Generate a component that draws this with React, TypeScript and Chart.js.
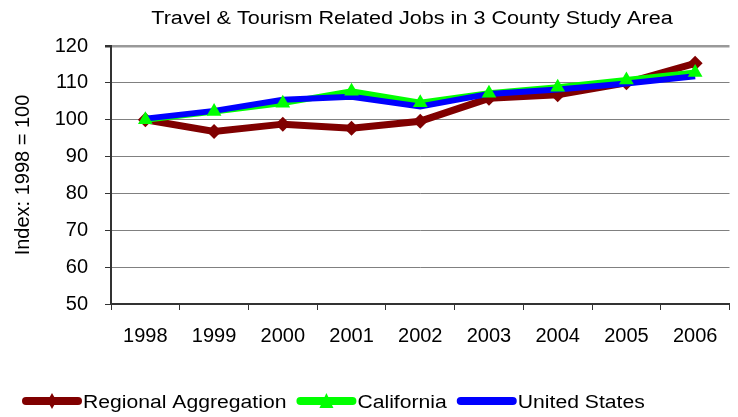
import React, { useEffect, useRef } from "react";
import { Chart, registerables } from "chart.js";

Chart.register(...registerables);

const years = ["1998", "1999", "2000", "2001", "2002", "2003", "2004", "2005", "2006"];
const regional = [100, 96.8, 98.8, 97.7, 99.6, 105.8, 106.8, 110.0, 115.3];
const california = [100, 102.2, 104.5, 107.7, 104.6, 107.2, 108.8, 110.8, 112.8];
const unitedStates = [100.3, 102.4, 105.4, 106.2, 103.6, 107.0, 108.2, 109.8, 111.8];
const seriesNames = ["Regional Aggregation", "California", "United States"];
const titleText = "Travel & Tourism Related Jobs in 3 County Study Area";
const yAxisTitle = "Index: 1998 = 100";
const yMin = 50;
const yMax = 120;
const yStep = 10;

const FONT = '"Liberation Sans", Arial, sans-serif';
const RED = "#800000";
const GREEN = "#00ff00";
const BLUE = "#0000ff";
const STRETCH = 1.2;
const LEGEND_STRETCH = 1.175;

function drawDiamond(ctx: CanvasRenderingContext2D, x: number, y: number, rx: number, ry: number, color: string) {
  ctx.beginPath();
  ctx.moveTo(x, y - ry);
  ctx.lineTo(x + rx, y);
  ctx.lineTo(x, y + ry);
  ctx.lineTo(x - rx, y);
  ctx.closePath();
  ctx.fillStyle = color;
  ctx.fill();
}

function drawTriangle(ctx: CanvasRenderingContext2D, x: number, top: number, bottom: number, w: number, color: string) {
  ctx.beginPath();
  ctx.moveTo(x, top);
  ctx.lineTo(x + w / 2, bottom);
  ctx.lineTo(x - w / 2, bottom);
  ctx.closePath();
  ctx.fillStyle = color;
  ctx.fill();
}

const decorPlugin = {
  id: "decor",
  afterDraw(chart: any) {
    const ctx: CanvasRenderingContext2D = chart.ctx;
    ctx.save();
    // Title
    ctx.font = `18px ${FONT}`;
    ctx.fillStyle = "#000";
    ctx.textAlign = "center";
    ctx.textBaseline = "middle";
    ctx.save();
    ctx.translate(412, 19);
    ctx.scale(STRETCH, 1);
    ctx.fillText(titleText, 0, 0);
    ctx.restore();

    // Legend
    const colors = [RED, GREEN, BLUE];
    const markers = ["diamond", "triangle", "none"];
    const ly = 401;
    let x = 22;
    ctx.font = `18px ${FONT}`;
    ctx.textAlign = "left";
    for (let i = 0; i < seriesNames.length; i++) {
      ctx.strokeStyle = colors[i];
      ctx.lineWidth = 8;
      ctx.lineCap = "round";
      ctx.beginPath();
      ctx.moveTo(x + 4, ly);
      ctx.lineTo(x + 56, ly);
      ctx.stroke();
      const mx = x + 30;
      if (markers[i] === "diamond") drawDiamond(ctx, mx, ly, 4.5, 8, colors[i]);
      if (markers[i] === "triangle") drawTriangle(ctx, mx, ly - 8, ly + 7, 14, colors[i]);
      const tx = x + 61;
      ctx.fillStyle = "#000";
      ctx.save();
      ctx.translate(tx, ly + 2);
      ctx.scale(LEGEND_STRETCH, 1);
      ctx.fillText(seriesNames[i], 0, 0);
      const w = ctx.measureText(seriesNames[i]).width * LEGEND_STRETCH;
      ctx.restore();
      x = tx + w + 10;
    }
    ctx.restore();
  },
};

export default function App() {
  const ref = useRef<HTMLCanvasElement | null>(null);
  useEffect(() => {
    document.body.style.margin = "0";
    const canvas = ref.current!;
    const chart = new Chart(canvas, {
      type: "line",
      data: {
        labels: years,
        datasets: [
          {
            label: seriesNames[0],
            data: regional,
            borderColor: RED,
            backgroundColor: RED,
            borderWidth: 7,
            pointStyle: "rectRot",
            pointRadius: 7.5,
            pointBorderWidth: 0,
            pointBackgroundColor: RED,
            tension: 0,
            order: 4,
          },
          {
            label: seriesNames[1],
            data: california,
            borderColor: GREEN,
            backgroundColor: GREEN,
            borderWidth: 6,
            pointRadius: 0,
            tension: 0,
            order: 3,
          },
          {
            label: seriesNames[2],
            data: unitedStates,
            borderColor: BLUE,
            backgroundColor: BLUE,
            borderWidth: 6,
            pointRadius: 0,
            tension: 0,
            order: 2,
          },
          {
            label: seriesNames[1] + " markers",
            data: california,
            showLine: false,
            borderColor: GREEN,
            backgroundColor: GREEN,
            pointStyle: "triangle",
            pointRadius: 8.5,
            pointBorderWidth: 0,
            pointBackgroundColor: GREEN,
            order: 1,
          },
        ],
      },
      options: {
        animation: false,
        responsive: false,
        devicePixelRatio: 1,
        layout: { padding: { top: 46, right: 0, left: 0, bottom: 0 } },
        plugins: {
          legend: { display: false },
          title: { display: false },
          tooltip: { enabled: false },
        },
        scales: {
          x: {
            type: "category",
            offset: true,
            grid: {
              offset: true,
              drawOnChartArea: false,
              drawTicks: true,
              tickLength: 6,
              tickColor: "#333",
              tickWidth: 1,
            },
            border: { color: "#333", width: 2 },
            ticks: {
              font: { family: FONT, size: 20 },
              color: "#000",
              padding: 14,
              maxRotation: 0,
              autoSkip: false,
            },
            afterFit: (s: any) => {
              s.height = 113;
            },
          },
          y: {
            min: yMin,
            max: yMax,
            ticks: {
              stepSize: yStep,
              font: { family: FONT, size: 20 },
              color: "#000",
              padding: 17,
            },
            grid: {
              color: (c: any) => (c.tick && c.tick.value === yMax ? "#999" : "#808080"),
              lineWidth: (c: any) => (c.tick && c.tick.value === yMax ? 2.5 : 1),
              tickLength: 6,
              tickColor: "#333",
            },
            border: { color: "#333", width: 2 },
            title: {
              display: true,
              text: yAxisTitle,
              font: { family: FONT, size: 20 },
              color: "#000",
              padding: { top: 11, bottom: 0 },
            },
            afterFit: (s: any) => {
              s.width = 111;
            },
          },
        },
      },
      plugins: [decorPlugin],
    } as any);
    return () => chart.destroy();
  }, []);
  return <canvas ref={ref} width={738} height={417} style={{ display: "block", width: 738, height: 417 }} />;
}
